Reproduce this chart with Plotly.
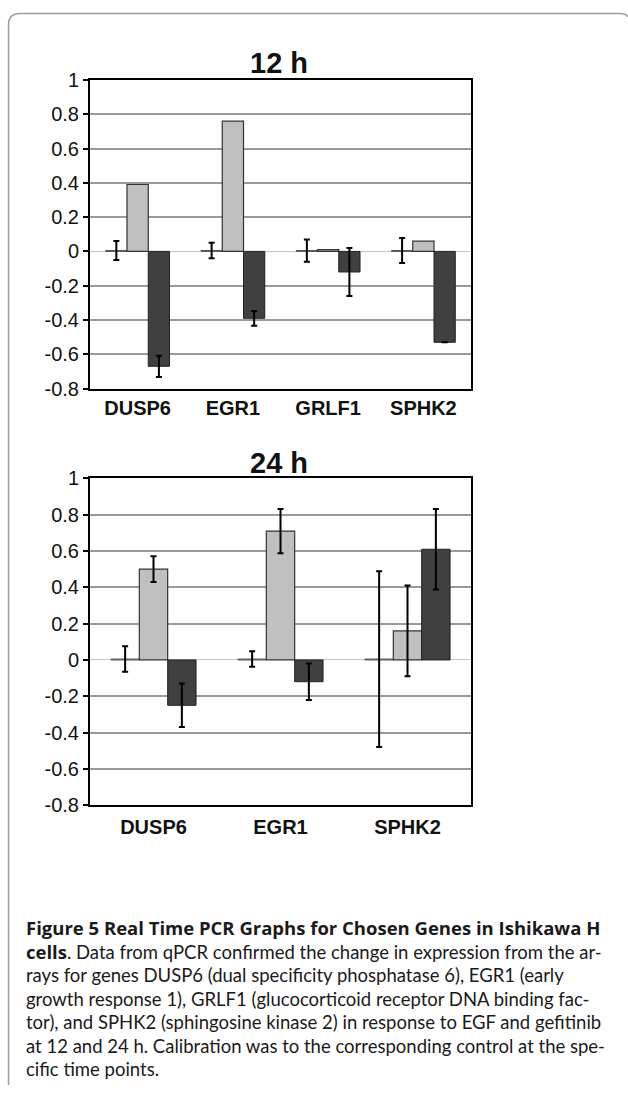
import plotly.graph_objects as go

W, H = 628, 1096

# ---------------- data ----------------
genes_12h = ["DUSP6", "EGR1", "GRLF1", "SPHK2"]
ctrl_12h = [0.005, 0.005, 0.005, 0.005]
ctrl_err_12h = [0.055, 0.045, 0.065, 0.073]
egf_12h = [0.39, 0.76, 0.01, 0.06]
gef_12h = [-0.67, -0.39, -0.12, -0.53]
gef_err_12h = [0.062, 0.043, 0.14, 0.0]

genes_24h = ["DUSP6", "EGR1", "SPHK2"]
ctrl_24h = [0.005, 0.005, 0.005]
ctrl_err_24h = [0.07, 0.043, 0.484]
egf_24h = [0.50, 0.71, 0.16]
egf_err_24h = [0.071, 0.122, 0.25]
gef_24h = [-0.25, -0.12, 0.61]
gef_err_24h = [0.12, 0.10, 0.222]

tick_vals = [1, 0.8, 0.6, 0.4, 0.2, 0, -0.2, -0.4, -0.6, -0.8]
tick_text = ["1", "0.8", "0.6", "0.4", "0.2", "0", "-0.2", "-0.4", "-0.6", "-0.8"]

titles = ["12 h", "24 h"]

BOLD = "<span style='font-family:Open Sans;font-weight:bold'>%s</span>"
caption_lines = [
    BOLD % "Figure 5 Real Time PCR Graphs for Chosen Genes in Ishikawa H",
    BOLD % "cells" + ". Data from qPCR confirmed the change in expression from the ar-",
    "rays for genes DUSP6 (dual specificity phosphatase 6), EGR1 (early",
    "growth response 1), GRLF1 (glucocorticoid receptor DNA binding fac-",
    "tor), and SPHK2 (sphingosine kinase 2) in response to EGF and gefitinib",
    "at 12 and 24 h. Calibration was to the corresponding control at the spe-",
    "cific time points.",
]

# ---------------- helpers ----------------
def px_x(x):
    return x / W

def px_y(y):
    # map target pixel row to paper fraction (compensates the capture offset)
    yy = (y - 10) / 0.981
    return 1 - yy / H

C_CTRL = "#8a8a8a"
C_EGF = "#c0c0c0"
C_GEF = "#404040"

def err(arr):
    return dict(type="data", array=arr, visible=True, color="black",
                thickness=2, width=3)

fig = go.Figure()

# 12 h
fig.add_trace(go.Bar(x=genes_12h, y=ctrl_12h, error_y=err(ctrl_err_12h),
                     marker=dict(color=C_CTRL, line=dict(color="#555", width=1)),
                     xaxis="x", yaxis="y", showlegend=False))
fig.add_trace(go.Bar(x=genes_12h, y=egf_12h,
                     marker=dict(color=C_EGF, line=dict(color="#333", width=1.2)),
                     xaxis="x", yaxis="y", showlegend=False))
fig.add_trace(go.Bar(x=genes_12h, y=gef_12h, error_y=err(gef_err_12h),
                     marker=dict(color=C_GEF, line=dict(color="#222", width=1)),
                     xaxis="x", yaxis="y", showlegend=False))

# 24 h
fig.add_trace(go.Bar(x=genes_24h, y=ctrl_24h, error_y=err(ctrl_err_24h),
                     marker=dict(color=C_CTRL, line=dict(color="#555", width=1)),
                     xaxis="x2", yaxis="y2", showlegend=False))
fig.add_trace(go.Bar(x=genes_24h, y=egf_24h, error_y=err(egf_err_24h),
                     marker=dict(color=C_EGF, line=dict(color="#333", width=1.2)),
                     xaxis="x2", yaxis="y2", showlegend=False))
fig.add_trace(go.Bar(x=genes_24h, y=gef_24h, error_y=err(gef_err_24h),
                     marker=dict(color=C_GEF, line=dict(color="#222", width=1)),
                     xaxis="x2", yaxis="y2", showlegend=False))

xdom = [px_x(90), px_x(471)]

def yaxis(dom):
    return dict(domain=dom, range=[-0.8, 1], tickvals=tick_vals, ticktext=tick_text,
                showline=True, linecolor="black", linewidth=2, mirror=True,
                ticks="outside", ticklen=5, tickwidth=2, tickcolor="black",
                showgrid=True, gridcolor="#9a9a9a", gridwidth=2,
                zeroline=True, zerolinecolor="#c4c4c4", zerolinewidth=1,
                tickfont=dict(family="Liberation Sans, Arial", size=20, color="#111"),
                fixedrange=True)

def xaxis(anchor, tl):
    return dict(domain=xdom, anchor=anchor, showline=True, linecolor="black",
                linewidth=2, mirror=True, ticks="outside" if tl > 0 else "",
                ticklen=max(tl, 1),
                tickcolor="rgba(0,0,0,0)", showgrid=False,
                tickfont=dict(family="Liberation Sans, Arial", size=20, color="#111"),
                tickprefix="<b>", ticksuffix="</b>", fixedrange=True)

annotations = [
    dict(text="<b>%s</b>" % titles[0], x=px_x(279), y=px_y(62), xref="paper", yref="paper",
         showarrow=False, xanchor="center", yanchor="middle",
         font=dict(family="Liberation Sans, Arial", size=29, color="#111")),
    dict(text="<b>%s</b>" % titles[1], x=px_x(279), y=px_y(462), xref="paper", yref="paper",
         showarrow=False, xanchor="center", yanchor="middle",
         font=dict(family="Liberation Sans, Arial", size=29, color="#111")),
]
for i, line in enumerate(caption_lines):
    annotations.append(dict(text=line, x=px_x(24), y=px_y(928 + i * 23.6),
                            xref="paper", yref="paper", showarrow=False,
                            xanchor="left", yanchor="middle", align="left",
                            font=dict(family="Lato", size=18.5, color="#1a1a1a")))

shapes = [
    dict(type="path", xref="paper", yref="paper",
         path="M %f %f L %f %f Q %f %f %f %f L %f %f Q %f %f %f %f" % (
             px_x(8.5), 0, px_x(8.5), px_y(24), px_x(8.5), px_y(12.5),
             px_x(20), px_y(12.5), px_x(620), px_y(12.5), px_x(626), px_y(12.5),
             px_x(628), px_y(16)),
         line=dict(color="#9c9c9c", width=1.5)),
]

fig.update_layout(
    width=W, height=H,
    margin=dict(l=0, r=0, t=0, b=0),
    paper_bgcolor="white", plot_bgcolor="white",
    barmode="group", bargap=0.33, bargroupgap=0,
    xaxis=xaxis("y", 0),
    yaxis=yaxis([px_y(388), px_y(79)]),
    xaxis2=xaxis("y2", 3),
    yaxis2=yaxis([px_y(805), px_y(478)]),
    annotations=annotations,
    shapes=shapes,
)

fig.write_html("out.html", config={"displayModeBar": False},
               post_script="document.body.style.margin='0';document.body.style.overflow='hidden';")
